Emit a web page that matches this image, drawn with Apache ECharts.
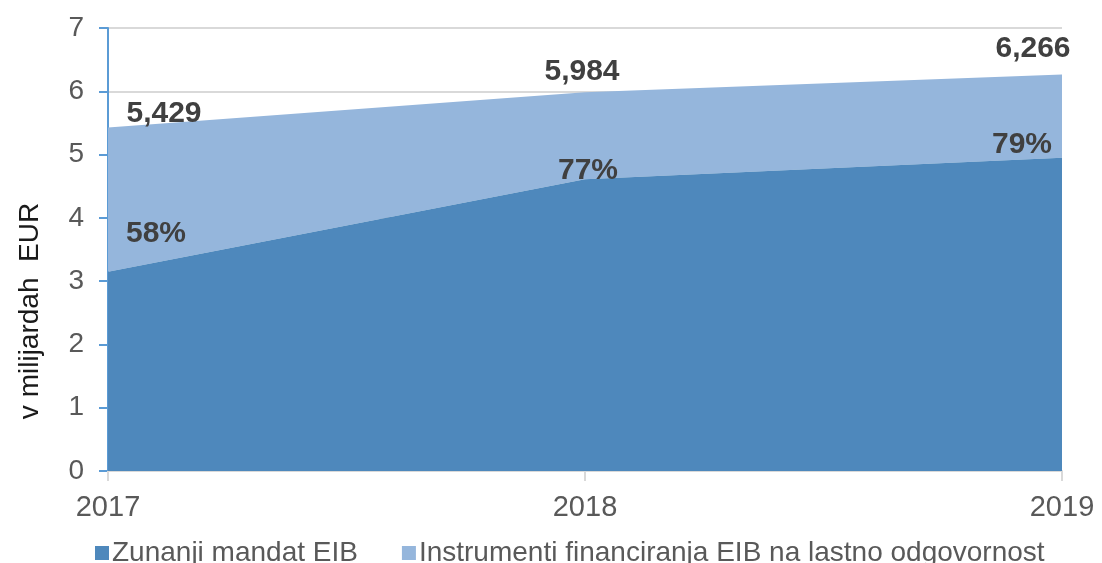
<!DOCTYPE html>
<html>
<head>
<meta charset="utf-8">
<script src="https://cdn.jsdelivr.net/npm/echarts@6/dist/echarts.min.js"></script>
<style>html,body{margin:0;padding:0;background:#fff;}#c{width:1102px;height:563px;}</style>
</head>
<body>
<div id="c"></div>
<script>
const categories = ['2017', '2018', '2019'];
const seriesNames = ['Zunanji mandat EIB', 'Instrumenti financiranja EIB na lastno odgovornost'];
const zunanjiMandat = [3.15, 4.61, 4.95];
const lastnaOdgovornost = [2.279, 1.374, 1.316];
const totalLabels = ['5,429', '5,984', '6,266'];
const shareLabels = ['58%', '77%', '79%'];
const yTicks = [0, 1, 2, 3, 4, 5, 6, 7];

// label placement (styling only)
const totalOffsets = [[56, 1], [-3, -6], [-29, -11]];
const shareOffsets = [[48, -23], [3, 6], [-40, 2]];

const FONT = '"Liberation Sans", Arial, sans-serif';
const labelStyle = {fontFamily: FONT, fontSize: 30, fontWeight: 'bold', color: '#404040'};

function buildData(values, texts, offsets) {
  return values.map((v, i) => ({
    value: v,
    label: Object.assign({show: true, position: 'top', distance: 0, offset: offsets[i], formatter: texts[i]}, labelStyle)
  }));
}

const chart = echarts.init(document.getElementById('c'), null, {renderer: 'canvas'});
chart.setOption({
  animation: false,
  backgroundColor: '#ffffff',
  grid: {left: 108, right: 40, top: 28, bottom: 92, containLabel: false},
  legend: {
    left: 90, top: 534,
    itemWidth: 14, itemHeight: 14, itemGap: 44,
    icon: 'rect',
    textStyle: {fontFamily: FONT, fontSize: 28, color: '#595959', padding: [0, 0, 0, -2]},
    data: seriesNames
  },
  xAxis: {
    type: 'category',
    data: categories,
    boundaryGap: false,
    axisLine: {lineStyle: {color: '#d9d9d9', width: 2}},
    axisTick: {show: true, length: 10, lineStyle: {color: '#d9d9d9', width: 2}},
    axisLabel: {fontFamily: FONT, fontSize: 29, color: '#595959', margin: 22},
    splitLine: {show: false}
  },
  yAxis: {
    type: 'value',
    min: yTicks[0], max: yTicks[yTicks.length - 1], interval: 1,
    axisLine: {show: true, lineStyle: {color: '#5b9bd5', width: 2}},
    axisTick: {show: true, length: 9, lineStyle: {color: '#5b9bd5', width: 2}},
    axisLabel: {fontFamily: FONT, fontSize: 28, color: '#595959', margin: 24},
    splitLine: {show: true, lineStyle: {color: '#d9d9d9', width: 2}}
  },
  graphic: [{
    type: 'text',
    x: 30, y: 311,
    rotation: Math.PI / 2,
    style: {text: 'v milijardah  EUR', font: '28px "Liberation Sans", Arial, sans-serif', fill: '#1a1a1a', align: 'center', verticalAlign: 'middle'}
  }],
  series: [
    {
      name: seriesNames[0], type: 'line', stack: 'total',
      data: buildData(zunanjiMandat, shareLabels, shareOffsets),
      symbol: 'circle', symbolSize: 0, showSymbol: true,
      lineStyle: {width: 0},
      itemStyle: {color: '#4e88bc'},
      areaStyle: {color: '#4e88bc', opacity: 1},
      z: 3
    },
    {
      name: seriesNames[1], type: 'line', stack: 'total',
      data: buildData(lastnaOdgovornost, totalLabels, totalOffsets),
      symbol: 'circle', symbolSize: 0, showSymbol: true,
      lineStyle: {width: 0},
      itemStyle: {color: '#95b6dc'},
      areaStyle: {color: '#95b6dc', opacity: 1},
      z: 2
    }
  ]
});
</script>
</body>
</html>
